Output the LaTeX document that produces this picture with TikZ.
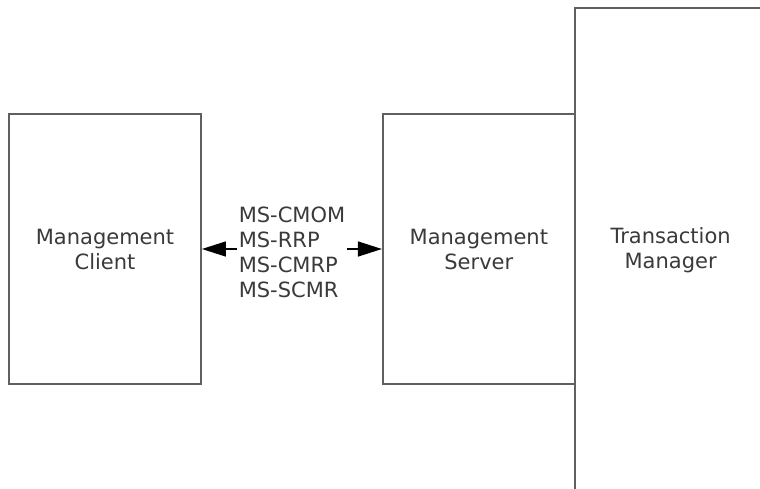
\documentclass[tikz,border=0pt]{standalone}
\usepackage{fontspec}
\setmainfont{DejaVu Sans}
\usetikzlibrary{arrows.meta,positioning}
\definecolor{boxline}{HTML}{606060}
\definecolor{boxtext}{HTML}{3A3A3A}
\tikzset{
    block/.style={
           rectangle,
           draw=boxline, line width=1.8pt,
           fill=white,
           minimum width=192pt,
           minimum height=270pt,
           text=boxtext,
           align=center,
           font=\fontsize{21}{25}\selectfont
           },
    proto/.style={
           inner sep=2pt,
           text=boxtext,
           align=left,
           font=\fontsize{21}{25}\selectfont
           },
    link/.style={
           line width=1.5pt,
           -{Triangle[length=24pt,width=15pt]}
           }
}
\begin{document}
\begin{tikzpicture}[x=1pt,y=-1pt]
   \useasboundingbox (0,0) rectangle (760,489);
   \node[block] (client) at (105,249) {Management\\Client};
   \node[block] (server) [right=180pt of client] {Management\\Server};
   \node[block, minimum height=484pt] (tm) [right=-2pt of server, yshift=-1pt] {Transaction\\Manager};
   \node[proto] (prot) at (292,252) {MS-CMOM\\MS-RRP\\MS-CMRP\\MS-SCMR};
   % arrows leave the label on both sides
   \draw[link] (prot.west |- client.east) -- (client.east);
   \draw[link] (prot.east |- server.west) -- (server.west);
\end{tikzpicture}
\end{document}
